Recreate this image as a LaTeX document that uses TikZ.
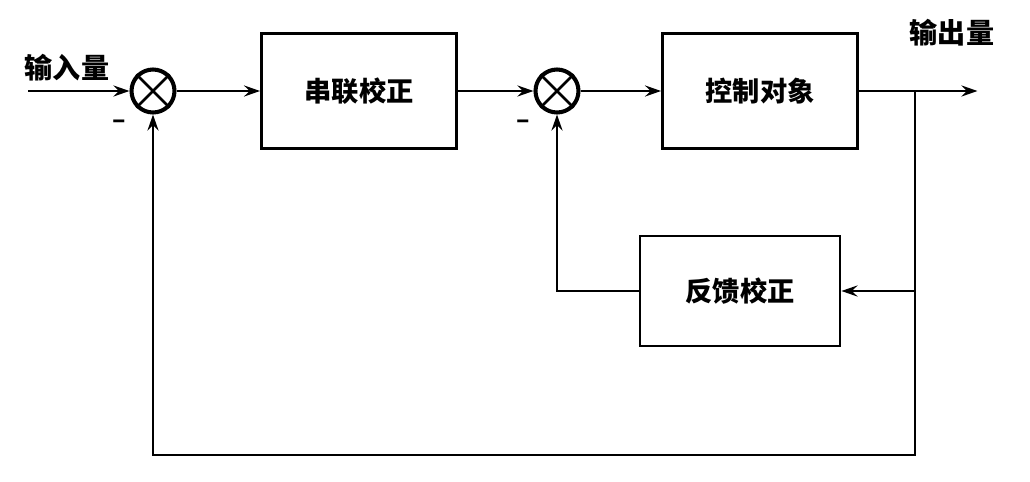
\documentclass[tikz,border=0pt]{standalone}
\usepackage{fontspec}
\newfontfamily\cjk{Noto Sans CJK SC}
\usetikzlibrary{arrows.meta, positioning}

\begin{document}
\begin{tikzpicture}[
  blk/.style={draw, line width=1.6pt, minimum width=3.9cm, minimum height=2.3cm,
              font=\cjk\bfseries\fontsize{15.5pt}{18pt}\selectfont},
  sumj/.style={draw, circle, line width=2.3pt, minimum size=0.86cm, inner sep=0pt},
  sig/.style={font=\cjk\bfseries\fontsize{16pt}{19pt}\selectfont},
  line/.style={line width=1.6pt},
  arr/.style={line, -{Stealth[length=3.2mm, width=2.2mm, inset=1.1mm]}}]
  \useasboundingbox (0,0) rectangle (20.6,-9.64);

  \node[sumj] (sum1)  at (3.06,-1.82) {};
  \node[blk]  (ser)   at (7.18,-1.82) {串联校正};
  \node[sumj] (sum2)  at (11.14,-1.82) {};
  \node[blk]  (plant) at (15.2,-1.82) {控制对象};
  \node[blk, minimum width=4cm, minimum height=2.2cm] (fb) at (14.8,-5.82) {反馈校正};

  \coordinate (in)  at (0.56,-1.82);
  \coordinate (out) at (19.55,-1.82);
  \coordinate (br)  at (18.3,-1.82);
  \coordinate (low) at (18.3,-9.1);

  \node[sig] (inlab)  at (1.34,-1.36) {输入量};
  \node[sig] (outlab) at (19.04,-0.66) {输出量};

  % summing junctions
  \foreach \s in {sum1,sum2}{
    \draw[line width=1.6pt] (\s.north west) -- (\s.south east)
                            (\s.north east) -- (\s.south west);
    \node[font=\cjk\bfseries\fontsize{14pt}{16pt}\selectfont,
          below left=0.12cm and 0.08cm of \s] {–};}

  \draw[arr] (in) -- (sum1.west);
  \draw[arr] (sum1.east) -- (ser.west);
  \draw[arr] (ser.east) -- (sum2.west);
  \draw[arr] (sum2.east) -- (plant.west);
  \draw[arr] (plant.east) -- (out);
  \draw[arr] (br |- fb.east) -- (fb.east);
  \draw[arr] (fb.west) -| (sum2.south);
  \draw[arr] (br) -- (low) -| (sum1.south);
\end{tikzpicture}
\end{document}
